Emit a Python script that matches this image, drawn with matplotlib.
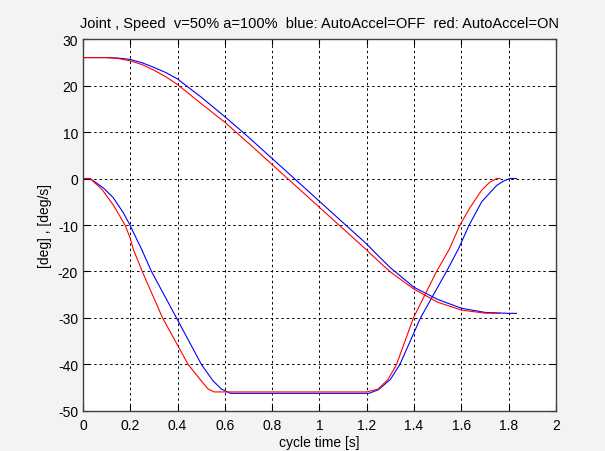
import matplotlib
matplotlib.use('Agg')
import matplotlib.pyplot as plt

plt.rcParams['font.family'] = ['Liberation Sans', 'DejaVu Sans']
plt.rcParams['axes.unicode_minus'] = False

# position curves (deg)
t_pos_blue = [0, 0.1, 0.15, 0.2, 0.25, 0.3, 0.35, 0.4, 0.5, 0.6, 0.7, 0.8, 0.9, 1.0, 1.1, 1.2,
              1.25, 1.3, 1.4, 1.5, 1.6, 1.7, 1.8, 1.833]
pos_blue = [26, 26, 25.9, 25.6, 24.9, 23.9, 22.8, 21.4, 17.5, 13.3, 8.9, 4.3, -0.3, -4.9, -9.5, -14.1,
            -16.7, -19.2, -23.4, -26.0, -27.9, -28.8, -29.0, -29.0]
t_pos_red = [0, 0.1, 0.15, 0.2, 0.25, 0.3, 0.35, 0.4, 0.5, 0.6, 0.7, 0.8, 0.9, 1.0, 1.1, 1.2,
             1.25, 1.3, 1.4, 1.5, 1.6, 1.7, 1.763]
pos_red = [26, 26, 25.8, 25.3, 24.5, 23.3, 21.9, 20.2, 16.1, 12.1, 7.6, 3.0, -1.6, -6.2, -10.8, -15.4,
           -17.8, -20.1, -23.8, -26.6, -28.3, -28.95, -29.0]

# speed curves (deg/s)
t_spd_blue = [0, 0.03, 0.086, 0.128, 0.17, 0.199, 0.227, 0.248, 0.29, 0.396, 0.501, 0.55,
              0.586, 0.624, 1.21, 1.25, 1.3, 1.34, 1.427, 1.537, 1.587, 1.633, 1.686, 1.749,
              1.78, 1.806, 1.833]
spd_blue = [0, 0, -2, -4.1, -7.3, -10, -13, -15.2, -20, -30, -40, -43.5,
            -45.3, -46.2, -46.2, -45.4, -43.2, -40, -30, -20, -15.2, -10, -5.0, -1.5,
            -0.5, 0, 0]
t_spd_red = [0, 0.03, 0.08, 0.13, 0.178, 0.2, 0.213, 0.251, 0.337, 0.445, 0.5, 0.53,
             0.555, 1.2, 1.248, 1.29, 1.326, 1.397, 1.495, 1.549, 1.594, 1.636, 1.686, 1.72,
             1.75, 1.763]
spd_red = [0, 0, -2.3, -5.8, -10, -12.8, -15.2, -20, -30, -40, -43.5, -45.3,
           -45.9, -45.9, -45.3, -43.2, -40, -30, -20, -15.2, -10, -6.3, -2.5, -0.8,
           0, 0]

xticks = [0, 0.2, 0.4, 0.6, 0.8, 1, 1.2, 1.4, 1.6, 1.8, 2]
xtick_labels = ['0', '0.2', '0.4', '0.6', '0.8', '1', '1.2', '1.4', '1.6', '1.8', '2']
yticks = [-50, -40, -30, -20, -10, 0, 10, 20, 30]

fig = plt.figure(figsize=(6.05, 4.52), dpi=100, facecolor='#f3f3f3')
ax = fig.add_axes([0.137, 0.0885, 0.782, 0.823])
ax.set_facecolor('white')

ax.plot(t_pos_blue, pos_blue, color='blue', lw=0.8)
ax.plot(t_spd_blue, spd_blue, color='blue', lw=0.8)
ax.plot(t_pos_red, pos_red, color='red', lw=0.8)
ax.plot(t_spd_red, spd_red, color='red', lw=0.8)

ax.set_xlim(0, 2)
ax.set_ylim(-50, 30)
ax.set_xticks(xticks)
ax.set_xticklabels(xtick_labels)
ax.set_yticks(yticks)
ax.grid(True, color='black', linestyle=(0, (2.5, 3)), lw=0.7)
ax.tick_params(direction='in', length=4, top=True, right=True, labelsize=10,
               colors='black', width=0.8)
ax.tick_params(axis='x', pad=5)
for s in ax.spines.values():
    s.set_linewidth(1.0)
    s.set_color('#404040')

ax.set_title('Joint , Speed  v=50% a=100%  blue: AutoAccel=OFF  red: AutoAccel=ON',
             fontsize=10.5, pad=9)
ax.set_xlabel('cycle time [s]', fontsize=10, labelpad=2)
ax.set_ylabel('[deg] , [deg/s]', fontsize=10, labelpad=4)

fig.savefig('out.png', dpi=100, facecolor=fig.get_facecolor())
